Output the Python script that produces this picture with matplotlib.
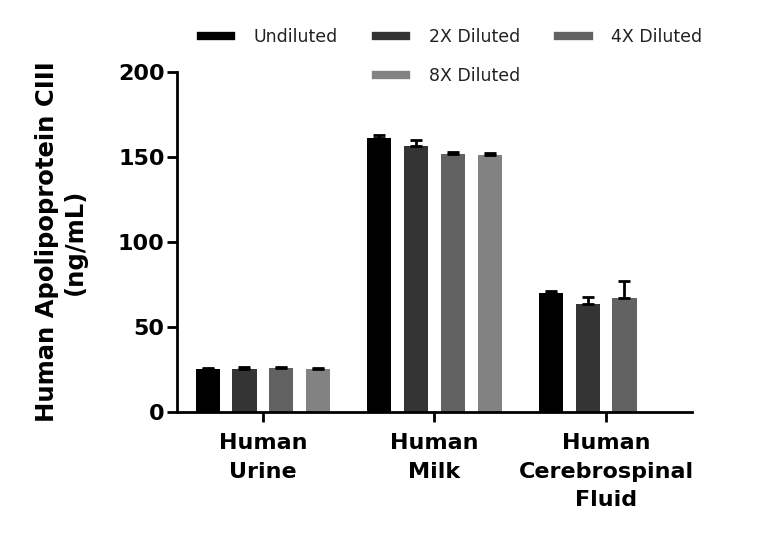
import matplotlib
matplotlib.use("Agg")
import matplotlib.pyplot as plt
from matplotlib.lines import Line2D
import numpy as np

# data
samples = ["Human\nUrine", "Human\nMilk", "Human\nCerebrospinal\nFluid"]
series = ["Undiluted", "2X Diluted", "4X Diluted", "8X Diluted"]
colors = ["#000000", "#343434", "#626262", "#828282"]

undiluted = [25.1, 161.4, 70.2]
undiluted_err = [0.8, 1.3, 1.0]
dil2x = [25.5, 156.7, 63.5]
dil2x_err = [0.8, 3.3, 4.3]
dil4x = [25.7, 152.0, 67.1]
dil4x_err = [0.8, 1.0, 9.8]
dil8x = [25.3, 151.4, None]
dil8x_err = [0.8, 1.2, None]

values = [undiluted, dil2x, dil4x, dil8x]
errors = [undiluted_err, dil2x_err, dil4x_err, dil8x_err]

plt.rcParams['font.family'] = ['DejaVu Sans']

fig = plt.figure(figsize=(7.68, 5.43), dpi=100)
ax = fig.add_axes([0.2305, 0.2413, 0.6705, 0.6261])

x = np.arange(len(samples))
pitch = 0.2138
width = 0.14
for i, (vals, errs) in enumerate(zip(values, errors)):
    xs = [xx + (i - 1.5) * pitch for xx, v in zip(x, vals) if v is not None]
    vs = [v for v in vals if v is not None]
    es = [e for e in errs if e is not None]
    ax.bar(xs, vs, width=width, color=colors[i], label=series[i], zorder=2)
    ax.errorbar(xs, vs, yerr=[[0] * len(es), es], fmt="none", ecolor="black",
                elinewidth=2, capsize=4.5, capthick=2, zorder=3)

ax.set_xlim(-0.5, 2.5)
ax.set_ylim(0, 200)
ax.set_yticks([0, 50, 100, 150, 200])
ax.set_xticks(x)
ax.set_xticklabels(samples, fontsize=16, fontweight="bold", linespacing=1.55)
for lab in ax.get_yticklabels():
    lab.set_fontsize(16)
    lab.set_fontweight("bold")

for s in ["top", "right"]:
    ax.spines[s].set_visible(False)
for s in ["left", "bottom"]:
    ax.spines[s].set_linewidth(2)
ax.tick_params(axis="y", length=7, width=2, pad=2)
ax.tick_params(axis="x", length=7, width=2, pad=8)

ax.set_ylabel("Human Apolipoprotein CIII\n(ng/mL)", fontsize=17.5, fontweight="bold",
              labelpad=22, linespacing=1.2)

# legend laid out as in the reference: 3 columns, 8X under 2X
h = [Line2D([], [], color=c, lw=6) for c in colors]
blank = Line2D([], [], color="none", lw=0)
handles = [h[0], blank, h[1], h[3], h[2], blank]
labels = [series[0], "", series[1], series[3], series[2], ""]
fig.legend(handles, labels, ncol=3, frameon=False, fontsize=12.5,
           loc="upper center", bbox_to_anchor=(0.588, 0.977),
           handlelength=1.75, columnspacing=2.2, labelspacing=1.2,
           handletextpad=1.3, labelcolor="#222222")

fig.savefig("out.png", dpi=100)
